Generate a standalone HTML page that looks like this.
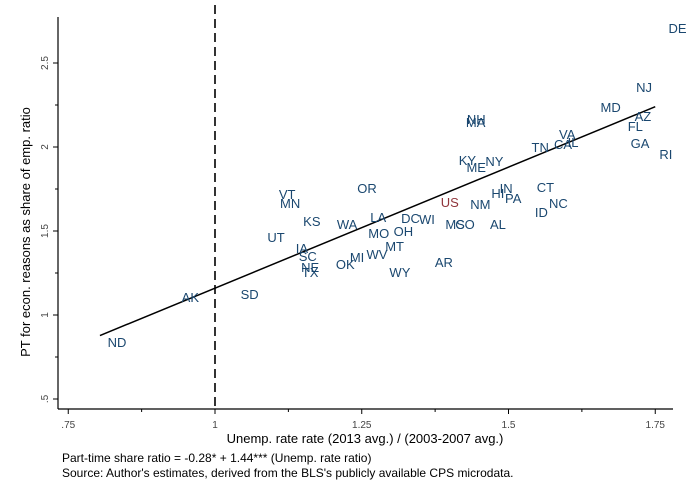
<!DOCTYPE html>
<html><head><meta charset="utf-8"><style>
body{margin:0;background:#fff}
svg{display:block;font-family:"Liberation Sans",Arial,sans-serif}
</style></head><body>
<svg id="chart" width="690" height="502" viewBox="0 0 690 502">
<rect width="690" height="502" fill="#fff"/>
<g id="axes"></g>
<g id="marks"></g>
<text x="365" y="443" text-anchor="middle" font-size="13" fill="#000">Unemp. rate rate (2013 avg.) / (2003-2007 avg.)</text>
<text transform="translate(30,232) rotate(-90)" text-anchor="middle" font-size="13" fill="#000">PT for econ. reasons as share of emp. ratio</text>
<text x="62" y="462" font-size="12" fill="#000">Part-time share ratio = -0.28* + 1.44*** (Unemp. rate ratio)</text>
<text x="62" y="477" font-size="12" fill="#000">Source: Author's estimates, derived from the BLS's publicly available CPS microdata.</text>
</svg>
<script>
const states = ["ND","AK","SD","UT","VT","MN","KS","IA","SC","NE","TX","OK","MI","WA","OR","LA","MO","OH","DC","WI","MT","WV","WY","AR","US","MS","CO","NM","AL","KY","ME","NY","MA","NH","HI","IN","PA","ID","NC","CT","TN","CA","IL","VA","MD","AZ","FL","GA","RI","NJ","DE"];
const unempRatio = [0.833,0.958,1.059,1.104,1.123,1.128,1.165,1.148,1.158,1.162,1.162,1.222,1.242,1.225,1.259,1.278,1.279,1.321,1.333,1.361,1.306,1.276,1.315,1.390,1.400,1.409,1.426,1.452,1.482,1.430,1.445,1.476,1.444,1.445,1.482,1.496,1.508,1.556,1.585,1.563,1.554,1.593,1.610,1.600,1.674,1.729,1.716,1.724,1.768,1.731,1.788];
const ptRatio = [0.839,1.108,1.125,1.464,1.720,1.666,1.560,1.399,1.351,1.286,1.256,1.304,1.345,1.541,1.756,1.583,1.488,1.500,1.578,1.572,1.411,1.363,1.256,1.315,1.672,1.541,1.541,1.660,1.541,1.923,1.881,1.917,2.149,2.167,1.727,1.756,1.697,1.613,1.666,1.762,2.000,2.018,2.030,2.078,2.239,2.185,2.126,2.024,1.959,2.358,2.709];
const xTicks = [0.75,1,1.25,1.5,1.75];
const xTickLabels = [".75","1","1.25","1.5","1.75"];
const xMinorTicks = [0.875,1.125,1.375,1.625];
const yTicks = [0.5,1,1.5,2,2.5];
const yTickLabels = [".5","1","1.5","2","2.5"];
const yMinorTicks = [0.75,1.25,1.75,2.25];
const fitIntercept = -0.28, fitSlope = 1.44;
const fitRange = [0.804,1.75];
const refLineX = 1;

const NS="http://www.w3.org/2000/svg";
const X0=58, Y0=409, XR=673, YT=17;
function sx(v){return 215+(v-1)*587;}
function sy(v){return 399-(v-0.5)*168;}
function mk(tag,attrs,parent){const e=document.createElementNS(NS,tag);for(const k in attrs)e.setAttribute(k,attrs[k]);parent.appendChild(e);return e;}
const ax=document.getElementById('axes'), mg=document.getElementById('marks');

let l=mk('line',{x1:X0,y1:YT,x2:X0,y2:Y0,stroke:'#000','stroke-width':1.2},ax);


l=mk('line',{x1:X0,y1:Y0,x2:XR,y2:Y0,stroke:'#000','stroke-width':1.2},ax);



xTicks.forEach((v,i)=>{
  const t=mk('line',{x1:sx(v),y1:Y0,x2:sx(v),y2:Y0+5,stroke:'#000'},ax);
  
  
  const tx=mk('text',{x:sx(v),y:Y0+19,'text-anchor':'middle','font-size':10,fill:'#444'},ax);
  tx.textContent=xTickLabels[i];
  
  
});
xMinorTicks.forEach(v=>{
  const t=mk('line',{x1:sx(v),y1:Y0,x2:sx(v),y2:Y0+3,stroke:'#000'},ax);
  
  
});
yTicks.forEach((v,i)=>{
  const t=mk('line',{x1:X0-5,y1:sy(v),x2:X0,y2:sy(v),stroke:'#000'},ax);
  
  
  const tx=mk('text',{transform:`translate(${X0-10},${sy(v)}) rotate(-90)`,'text-anchor':'middle','font-size':10,fill:'#444'},ax);
  tx.textContent=yTickLabels[i];
  
  
});
yMinorTicks.forEach(v=>{
  const t=mk('line',{x1:X0-3,y1:sy(v),x2:X0,y2:sy(v),stroke:'#000'},ax);
  
  
});

l=mk('line',{x1:sx(refLineX),y1:5,x2:sx(refLineX),y2:Y0,stroke:'#000','stroke-width':1.6,'stroke-dasharray':'9,5'},mg);



l=mk('line',{x1:sx(fitRange[0]),y1:sy(fitIntercept+fitSlope*fitRange[0]),x2:sx(fitRange[1]),y2:sy(fitIntercept+fitSlope*fitRange[1]),stroke:'#000','stroke-width':1.5},mg);



states.forEach((s,i)=>{
  const t=mk('text',{x:sx(unempRatio[i]),y:sy(ptRatio[i])+5,'text-anchor':'middle','font-size':13,fill:s==='US'?'#90353b':'#1a476f'},mg);
  t.textContent=s;
  
  
});
</script>
</body></html>
